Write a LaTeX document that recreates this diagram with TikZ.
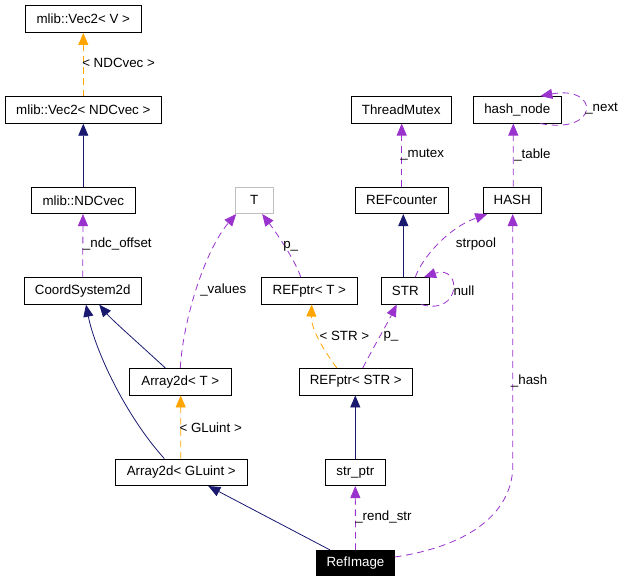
\documentclass[tikz,border=0pt]{standalone}
\usepackage{fontspec}
\setmainfont{Liberation Sans}
\usepackage{tikz}
\usetikzlibrary{arrows.meta,calc}
\usepackage{xcolor}
\definecolor{inhc}{HTML}{191970}
\definecolor{usec}{HTML}{9A32CD}
\definecolor{tmplc}{HTML}{FFA500}
\definecolor{tmplbox}{HTML}{BFBFBF}

\begin{document}
\begin{tikzpicture}[x=0.75pt,y=-0.75pt,
  clsbox/.style={draw, line width=0.6pt, minimum height=20pt, inner sep=0pt,
    font=\fontsize{10}{12}\selectfont},
  edgelbl/.style={anchor=west, inner sep=0pt, font=\fontsize{10}{12}\selectfont},
  inhline/.style={draw=inhc, line width=0.6pt, -{Triangle[length=9pt,width=7.5pt]}},
  usageline/.style={draw=usec, line width=0.6pt, dash pattern=on 5pt off 3.5pt,
    -{Triangle[length=9pt,width=7.5pt]}},
  tmplline/.style={draw=tmplc, line width=0.6pt, dash pattern=on 5pt off 3.5pt,
    -{Triangle[length=9pt,width=7.5pt]}}]
  \useasboundingbox (0,0) rectangle (625,581);
  % classes
  \node[clsbox, minimum width=87pt] (vec2v) at (83.3,19.2) {mlib::Vec2< V >};
  \node[clsbox, minimum width=117pt] (vec2ndc) at (83.3,110) {mlib::Vec2< NDCvec >};
  \node[clsbox, minimum width=78pt] (ndcvec) at (83.3,200.3) {mlib::NDCvec};
  \node[clsbox, minimum width=88pt] (coord) at (82.7,291) {CoordSystem2d};
  \node[clsbox, draw=tmplbox, minimum width=28.5pt] (tparam) at (254.2,200.3) {T};
  \node[clsbox, minimum width=76.5pt] (arrayT) at (180.3,381.7) {Array2d< T >};
  \node[clsbox, minimum width=85pt] (refS) at (355.8,381.7) {REFptr< STR >};
  \node[clsbox, minimum width=99pt] (arrayG) at (181.3,472.3) {Array2d< GLuint >};
  \node[clsbox, minimum width=45pt] (strptr) at (355.3,472.3) {str\_ptr};
  \node[clsbox, fill=black, text=white, minimum width=58.5pt, minimum height=19pt] (refimg) at (355.5,563) {RefImage};
  \node[clsbox, minimum width=75pt] (thrm) at (401.2,109.8) {ThreadMutex};
  \node[clsbox, minimum width=66pt] (hnode) at (517.3,109.8) {hash\_node};
  \node[clsbox, minimum width=70pt] (refc) at (401.7,200.3) {REFcounter};
  \node[clsbox, minimum width=43.5pt] (hash) at (512.2,200.3) {HASH};
  \node[clsbox, minimum width=72pt] (refT) at (309.3,290.8) {REFptr< T >};
  \node[clsbox, minimum width=36pt] (strc) at (405.3,290.8) {STR};
  % inheritance
  \draw[inhline] (ndcvec.north) -- (vec2ndc.south);
  \draw[inhline] ($(arrayT.north)+(-15,0)$) .. controls (135,340) and (112,320) .. ($(coord.south)+(16.6,0)$);
  \draw[inhline] ($(arrayG.north)+(-17,0)$) .. controls (125,415) and (95,350) .. ($(coord.south)+(3.3,0)$);
  \draw[inhline] ($(strc.north)+(-2,0)$) -- ($(refc.south)+(1.6,0)$);
  \draw[inhline] (strptr.north) -- ($(refS.south)+(-0.5,0)$);
  \draw[inhline] ($(refimg.north)+(-25.5,0)$) -- ($(arrayG.south)+(27,0)$);
  % template instances
  \draw[tmplline] (vec2ndc.north) -- (vec2v.south);
  \draw[tmplline] ($(arrayG.north)+(-0.6,0)$) -- ($(arrayT.south)+(0.4,0)$);
  \draw[tmplline] ($(refS.north)+(-19,0)$) .. controls (325,352) and (311,330) .. ($(refT.south)+(2.4,0)$);
  \node[edgelbl] (lvec) at (82,63) {< NDCvec >};
  \node[edgelbl] (lglu) at (179.3,427.3) {< GLuint >};
  \node[edgelbl] (lstr) at (319.3,336) {< STR >};
  % usage
  \draw[usageline] (coord.north) -- ($(ndcvec.south)+(-0.3,0)$);
  \draw[usageline] (arrayT.north) .. controls (183,320) and (205,250) .. ($(tparam.south)+(-18,0)$);
  \draw[usageline] ($(refT.north)+(-8.6,0)$) .. controls (296,262) and (278,235) .. ($(tparam.south)+(8,0)$);
  \draw[usageline] ($(refS.north)+(7,0)$) .. controls (372,350) and (388,322) .. ($(strc.south)+(-8.6,0)$);
  \draw[usageline] ($(strc.south)+(16,0)$) .. controls (462,316) and (462,264) .. ($(strc.north)+(18.7,0)$);
  \draw[usageline] ($(strc.north)+(10,0)$) .. controls (422,258) and (448,228) .. ($(hash.south)+(-25,0)$);
  \draw[usageline] (refc.north) -- ($(thrm.south)+(0.5,0)$);
  \draw[usageline] ($(hash.north)+(1,0)$) -- ($(hnode.south)+(-4,0)$);
  \draw[usageline] ($(hnode.south)+(23,0)$) .. controls (600,135) and (600,85) .. ($(hnode.north)+(23,0)$);
  \draw[usageline] ($(refimg.east)+(0,-6)$) .. controls (475,545) and (510,510) .. (512.7,470) -- ($(hash.south)+(0.5,0)$);
  \draw[usageline] (refimg.north) -- (strptr.south);
  \node[edgelbl] (lndc) at (82.7,244.3) {\_ndc\_offset};
  \node[edgelbl] (lval) at (200,290) {\_values};
  \node[edgelbl] (lpt) at (283,246) {p\_};
  \node[edgelbl] (lps) at (383.3,336) {p\_};
  \node[edgelbl] (lnull) at (453.3,290.7) {null};
  \node[edgelbl] (lpool) at (455.7,244.3) {strpool};
  \node[edgelbl] (lmtx) at (400,155) {\_mutex};
  \node[edgelbl] (ltab) at (514,155) {\_table};
  \node[edgelbl] (lnext) at (585,109) {\_next};
  \node[edgelbl] (lhash) at (510.7,380.7) {\_hash};
  \node[edgelbl] (lrend) at (355,516.7) {\_rend\_str};
\end{tikzpicture}
\end{document}
